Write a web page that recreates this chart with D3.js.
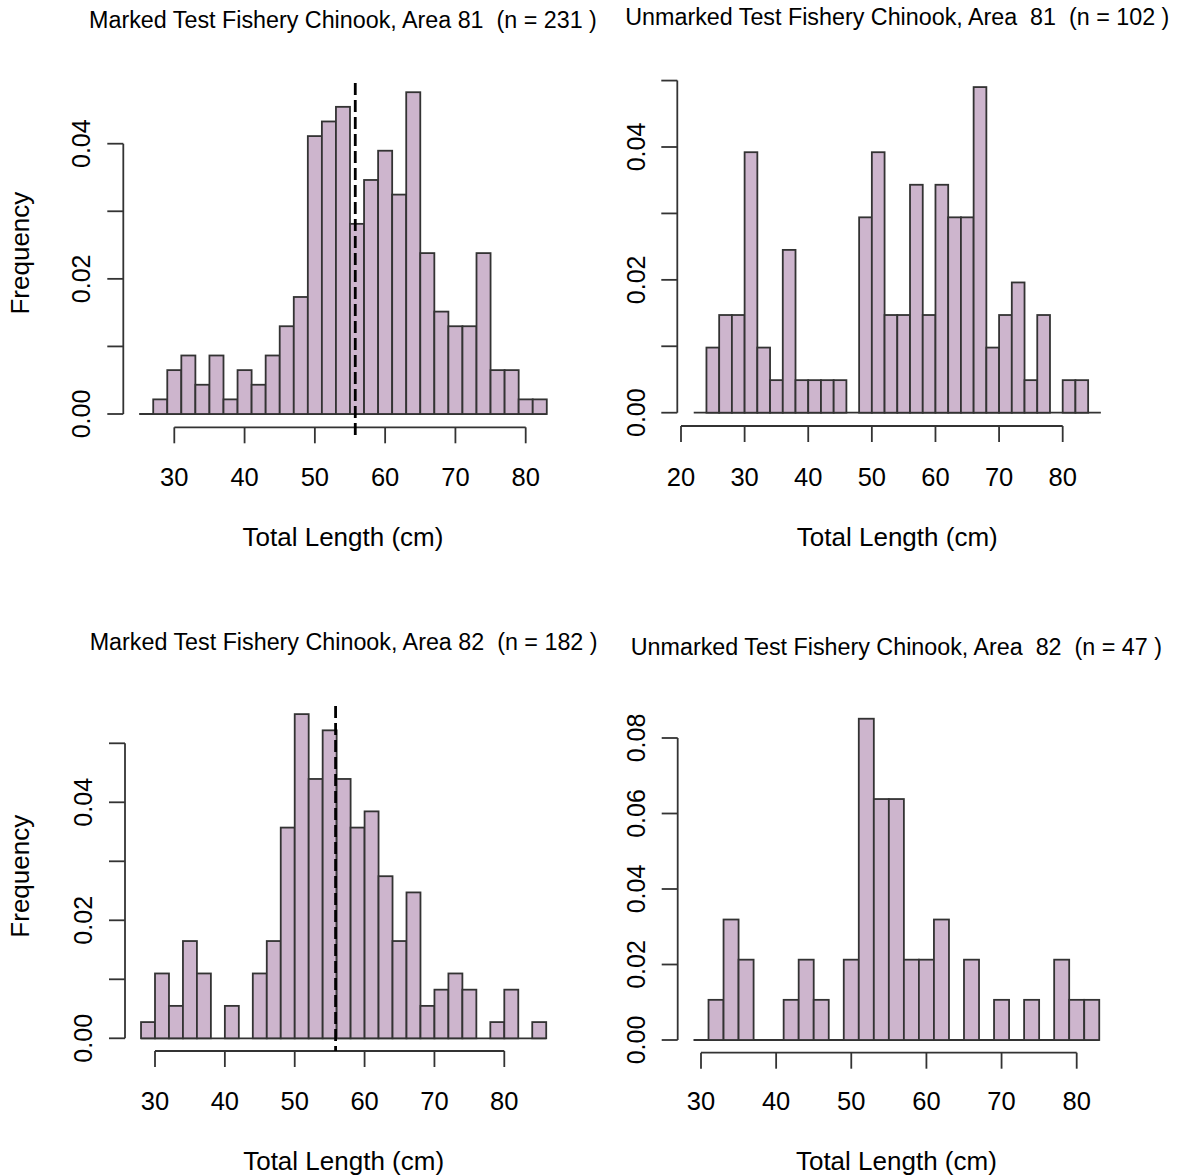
<!DOCTYPE html>
<html>
<head>
<meta charset="utf-8">
<script src="https://cdn.jsdelivr.net/npm/d3@7"></script>
<style>
  html, body { margin: 0; padding: 0; background: #fff; }
  svg { display: block; font-family: "Liberation Sans", Arial, sans-serif; }
  text { white-space: pre; fill: #000; }
</style>
</head>
<body>
<svg id="chart" width="1177" height="1176"></svg>
<script>
// Chinook total-length histograms (2 cm bins), shown as density: count / (n * binWidth)
const binWidth = 2;

// Marked, Area 81 — bins start at 25 cm
const marked81Start = 25;
const marked81Counts = [0, 1, 3, 4, 2, 4, 1, 3, 2, 4, 6, 8, 19, 20, 21, 13, 16, 18, 15, 22, 11, 7, 6, 6, 11, 3, 3, 1, 1];
const marked81N = 231;
const marked81Mean = 55.75;

// Unmarked, Area 81 — bins start at 22 cm
const unmarked81Start = 22;
const unmarked81Counts = [0, 2, 3, 3, 8, 2, 1, 5, 1, 1, 1, 1, 0, 6, 8, 3, 3, 7, 3, 7, 6, 6, 10, 2, 3, 4, 1, 3, 0, 1, 1, 0];
const unmarked81N = 102;

// Marked, Area 82 — bins start at 28 cm
const marked82Start = 28;
const marked82Counts = [1, 4, 2, 6, 4, 0, 2, 0, 4, 6, 13, 20, 16, 19, 16, 13, 14, 10, 6, 9, 2, 3, 4, 3, 0, 1, 3, 0, 1];
const marked82N = 182;
const marked82Mean = 55.85;

// Unmarked, Area 82 — bins start at 29 cm
const unmarked82Start = 29;
const unmarked82Counts = [0, 1, 3, 2, 0, 0, 1, 2, 1, 0, 2, 8, 6, 6, 2, 2, 3, 0, 2, 0, 1, 0, 1, 0, 2, 1, 1];
const unmarked82N = 47;

// Axis ticks and labels
const xTicksFrom30 = [30, 40, 50, 60, 70, 80];
const xTicksFrom20 = [20, 30, 40, 50, 60, 70, 80];
const yTicksTo04 = [0, 0.01, 0.02, 0.03, 0.04];
const yTicksTo05 = [0, 0.01, 0.02, 0.03, 0.04, 0.05];
const yTicksTo08 = [0, 0.02, 0.04, 0.06, 0.08];
const yLabels3 = [0, 0.02, 0.04];
const yLabels5 = [0, 0.02, 0.04, 0.06, 0.08];

const titles = [
  "Marked Test Fishery Chinook, Area 81  (n = 231 )",
  "Unmarked Test Fishery Chinook, Area  81  (n = 102 )",
  "Marked Test Fishery Chinook, Area 82  (n = 182 )",
  "Unmarked Test Fishery Chinook, Area  82  (n = 47 )"
];
const xTitle = "Total Length (cm)";
const yTitle = "Frequency";

const barFill = "#CDB5CD";
const ink = "#333";

const panels = [
  {
    start: marked81Start, counts: marked81Counts, n: marked81N, mean: marked81Mean,
    title: titles[0], xTicks: xTicksFrom30, yTicks: yTicksTo04, yLabels: yLabels3,
    x: d3.scaleLinear().domain([30, 80]).range([174.3, 525.7]),
    y: d3.scaleLinear().domain([0, 0.04]).range([414, 143.7]),
    yAxisX: 123.3, xAxisY: 427.3, yLabelX: 89.5, xLabelY: 486, xTitleY: 546, titleY: 28,
    meanTop: 83, meanBottom: 436, showYTitle: true
  },
  {
    start: unmarked81Start, counts: unmarked81Counts, n: unmarked81N,
    title: titles[1], xTicks: xTicksFrom20, yTicks: yTicksTo05, yLabels: yLabels3,
    x: d3.scaleLinear().domain([20, 80]).range([681, 1062.7]),
    y: d3.scaleLinear().domain([0, 0.04]).range([412.7, 147]),
    yAxisX: 677.3, xAxisY: 426, yLabelX: 645, xLabelY: 486, xTitleY: 546, titleY: 25,
    showYTitle: false
  },
  {
    start: marked82Start, counts: marked82Counts, n: marked82N, mean: marked82Mean,
    title: titles[2], xTicks: xTicksFrom30, yTicks: yTicksTo05, yLabels: yLabels3,
    x: d3.scaleLinear().domain([30, 80]).range([155, 504.3]),
    y: d3.scaleLinear().domain([0, 0.04]).range([1038.3, 802.3]),
    yAxisX: 125, xAxisY: 1051, yLabelX: 91.5, xLabelY: 1110, xTitleY: 1170, titleY: 650,
    meanTop: 706, meanBottom: 1051, showYTitle: true
  },
  {
    start: unmarked82Start, counts: unmarked82Counts, n: unmarked82N,
    title: titles[3], xTicks: xTicksFrom30, yTicks: yTicksTo08, yLabels: yLabels5,
    x: d3.scaleLinear().domain([30, 80]).range([701, 1076.7]),
    y: d3.scaleLinear().domain([0, 0.08]).range([1040, 738]),
    yAxisX: 677.7, xAxisY: 1052.7, yLabelX: 645, xLabelY: 1110, xTitleY: 1170, titleY: 655,
    showYTitle: false
  }
];

const svg = d3.select("#chart");
const fmt = d3.format(".2f");

panels.forEach(p => {
  const g = svg.append("g");
  const bins = p.counts.map((c, i) => ({
    x0: p.start + i * binWidth,
    x1: p.start + (i + 1) * binWidth,
    density: c / (p.n * binWidth)
  }));
  const lo = bins[0].x0, hi = bins[bins.length - 1].x1;
  const span = hi - lo;
  const maxD = d3.max(bins, b => b.density);

  // baseline under all bins (empty bins show only this edge)
  g.append("line")
    .attr("x1", p.x(lo)).attr("x2", p.x(hi))
    .attr("y1", p.y(0)).attr("y2", p.y(0))
    .attr("stroke", ink).attr("stroke-width", 1.8);

  // bars
  g.selectAll("rect.bar")
    .data(bins.filter(b => b.density > 0))
    .join("rect")
    .attr("class", "bar")
    .attr("x", b => p.x(b.x0))
    .attr("width", b => p.x(b.x1) - p.x(b.x0))
    .attr("y", b => p.y(b.density))
    .attr("height", b => p.y(0) - p.y(b.density))
    .attr("fill", barFill)
    .attr("stroke", ink)
    .attr("stroke-width", 1.8);

  // x axis (bottom, offset below the bars)
  const xa = g.append("g");
  xa.append("line")
    .attr("x1", p.x(p.xTicks[0])).attr("x2", p.x(p.xTicks[p.xTicks.length - 1]))
    .attr("y1", p.xAxisY).attr("y2", p.xAxisY)
    .attr("stroke", ink).attr("stroke-width", 1.8);
  xa.selectAll("line.tick").data(p.xTicks).join("line")
    .attr("class", "tick")
    .attr("x1", d => p.x(d)).attr("x2", d => p.x(d))
    .attr("y1", p.xAxisY).attr("y2", p.xAxisY + 16)
    .attr("stroke", ink).attr("stroke-width", 1.8);
  xa.selectAll("text").data(p.xTicks).join("text")
    .attr("x", d => p.x(d)).attr("y", p.xLabelY)
    .attr("text-anchor", "middle")
    .attr("font-size", 25.5)
    .text(d => d);

  // y axis (left)
  const ya = g.append("g");
  ya.append("line")
    .attr("x1", p.yAxisX).attr("x2", p.yAxisX)
    .attr("y1", p.y(p.yTicks[0])).attr("y2", p.y(p.yTicks[p.yTicks.length - 1]))
    .attr("stroke", ink).attr("stroke-width", 1.8);
  ya.selectAll("line.tick").data(p.yTicks).join("line")
    .attr("class", "tick")
    .attr("x1", p.yAxisX - 16).attr("x2", p.yAxisX)
    .attr("y1", d => p.y(d)).attr("y2", d => p.y(d))
    .attr("stroke", ink).attr("stroke-width", 1.8);
  ya.selectAll("text").data(p.yLabels).join("text")
    .attr("transform", d => `translate(${p.yLabelX},${p.y(d)}) rotate(-90)`)
    .attr("text-anchor", "middle")
    .attr("font-size", 25)
    .text(d => fmt(d));

  // plot-region centre used for titles
  const cx = (p.x(lo - 0.04 * span) + p.x(hi + 0.04 * span)) / 2;
  const yTop = p.y(maxD * 1.04), yBot = p.y(-maxD * 0.04);

  g.append("text")
    .attr("x", cx).attr("y", p.titleY)
    .attr("text-anchor", "middle")
    .attr("font-size", 23.3)
    .text(p.title);

  g.append("text")
    .attr("x", cx).attr("y", p.xTitleY)
    .attr("text-anchor", "middle")
    .attr("font-size", 26)
    .text(xTitle);

  if (p.showYTitle) {
    g.append("text")
      .attr("transform", `translate(29,${(yTop + yBot) / 2}) rotate(-90)`)
      .attr("text-anchor", "middle")
      .attr("font-size", 26)
      .text(yTitle);
  }

  // dashed line at the mean length
  if (p.mean !== undefined) {
    g.append("line")
      .attr("x1", p.x(p.mean)).attr("x2", p.x(p.mean))
      .attr("y1", p.meanTop).attr("y2", p.meanBottom)
      .attr("stroke", "#000").attr("stroke-width", 2.8)
      .attr("stroke-dasharray", "12,5");
  }
});
</script>
</body>
</html>
